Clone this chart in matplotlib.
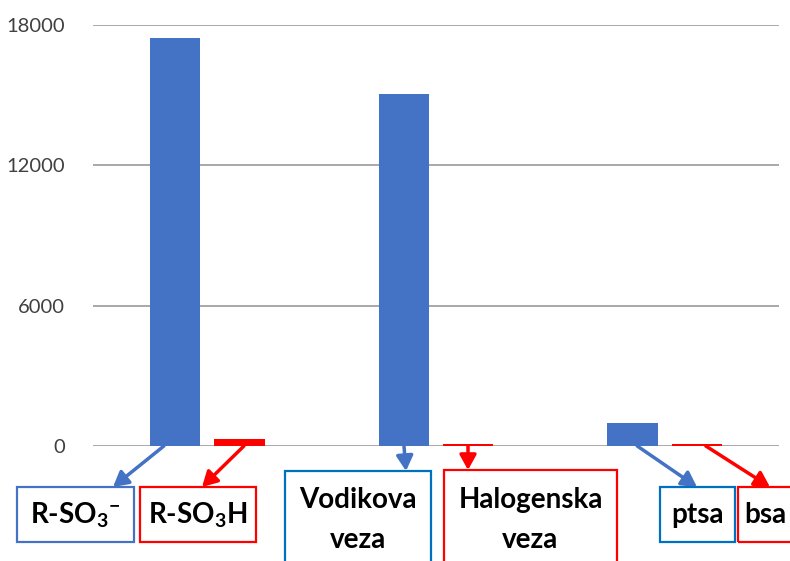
import matplotlib
matplotlib.use("Agg")
import matplotlib.pyplot as plt
from matplotlib.patches import Rectangle
import numpy as np

plt.rcParams['font.family'] = ['Lato', 'DejaVu Sans']
plt.rcParams['mathtext.fontset'] = 'custom'
plt.rcParams['mathtext.rm'] = 'Lato:bold'
plt.rcParams['mathtext.bf'] = 'Lato:bold'
plt.rcParams['mathtext.it'] = 'Lato:bold'

# data
groups = [0, 1, 2]
blue_values = [17450, 15050, 1000]
red_values = [300, 70, 90]
yticks = [0, 6000, 12000, 18000]

blue_labels = ["R-SO$_3$$^{-}$", "Vodikova\nveza", "ptsa"]
red_labels = ["R-SO$_3$H", "Halogenska\nveza", "bsa"]

BAR_BLUE = '#4472C4'
RED = '#FF0000'
BOX_BLUE = ['#4472C4', '#0070C0', '#0070C0']

W, H = 790, 561
fig = plt.figure(figsize=(7.9, 5.61), dpi=100)
ax = fig.add_axes([93 / W, (H - 446) / H, (779 - 93) / W, (446 - 25) / H])

x = np.array(groups, dtype=float)
off = 0.14
bw = 0.22
ax.bar(x - off, blue_values, width=bw, color=BAR_BLUE, zorder=3)
ax.bar(x + off, red_values, width=bw, color=RED, zorder=3)

ax.set_xlim(-0.5, 2.5)
ax.set_ylim(0, 18000)
ax.set_yticks(yticks)
ax.set_yticklabels([str(v) for v in yticks], fontsize=14.5, color='#404040')
ax.tick_params(axis='y', length=0, pad=20)
ax.set_xticks([])
for s in ax.spines.values():
    s.set_visible(False)
ax.grid(axis='y', color='#999999', lw=1.2, zorder=0)
ax.set_axisbelow(True)

# label boxes (figure pixel layout, from top-left image coords)
blue_boxes = [(17, 487, 134, 542), (285, 471, 431, 640), (660, 487, 735, 542)]
red_boxes = [(140, 487, 256, 542), (444, 470, 617, 640), (738, 487, 850, 542)]
blue_tips = [(113, 487), (406, 471), (697, 487)]
red_tips = [(202, 487), (468, 470), (770, 487)]
tail_shift = [(-0.05, 0.02), (0.0, 0.0), (0.02, 0.04)]

FS = 20


def draw_box(box, color):
    x0, y0, x1, y1 = box
    fig.patches.append(Rectangle((x0, H - y1), x1 - x0, y1 - y0, transform=None,
                                 fill=False, edgecolor=color, lw=1.6, zorder=5))


def box_text(box, label, left=None):
    x0, y0, x1, y1 = box
    lines = label.split("\n")
    if len(lines) == 2:
        bases = [508, 548]
    else:
        bases = [523]
    for ln, b in zip(lines, bases):
        if left is None:
            fig.text(((x0 + x1) / 2) / W, (H - b) / H, ln, ha='center', va='baseline',
                     fontsize=FS, fontweight='bold', color='black')
        else:
            fig.text(left / W, (H - b) / H, ln, ha='left', va='baseline',
                     fontsize=FS, fontweight='bold', color='black')


for i in range(3):
    draw_box(blue_boxes[i], BOX_BLUE[i])
    draw_box(red_boxes[i], RED)
    box_text(blue_boxes[i], blue_labels[i])
    box_text(red_boxes[i], red_labels[i], left=(744 if i == 2 else None))

    ap_b = dict(arrowstyle='-|>,head_length=0.9,head_width=0.5', color=BAR_BLUE, lw=2.5,
                shrinkA=0, shrinkB=0)
    ap_r = dict(arrowstyle='-|>,head_length=0.9,head_width=0.5', color=RED, lw=2.5,
                shrinkA=0, shrinkB=0)
    tx, ty = blue_tips[i]
    ax.annotate('', xy=(tx, H - ty), xycoords='figure pixels',
                xytext=(x[i] - off + tail_shift[i][0], 0), textcoords='data',
                arrowprops=ap_b, annotation_clip=False)
    tx, ty = red_tips[i]
    ax.annotate('', xy=(tx, H - ty), xycoords='figure pixels',
                xytext=(x[i] + off + tail_shift[i][1], 0), textcoords='data',
                arrowprops=ap_r, annotation_clip=False)

fig.savefig("out.png", dpi=100)
